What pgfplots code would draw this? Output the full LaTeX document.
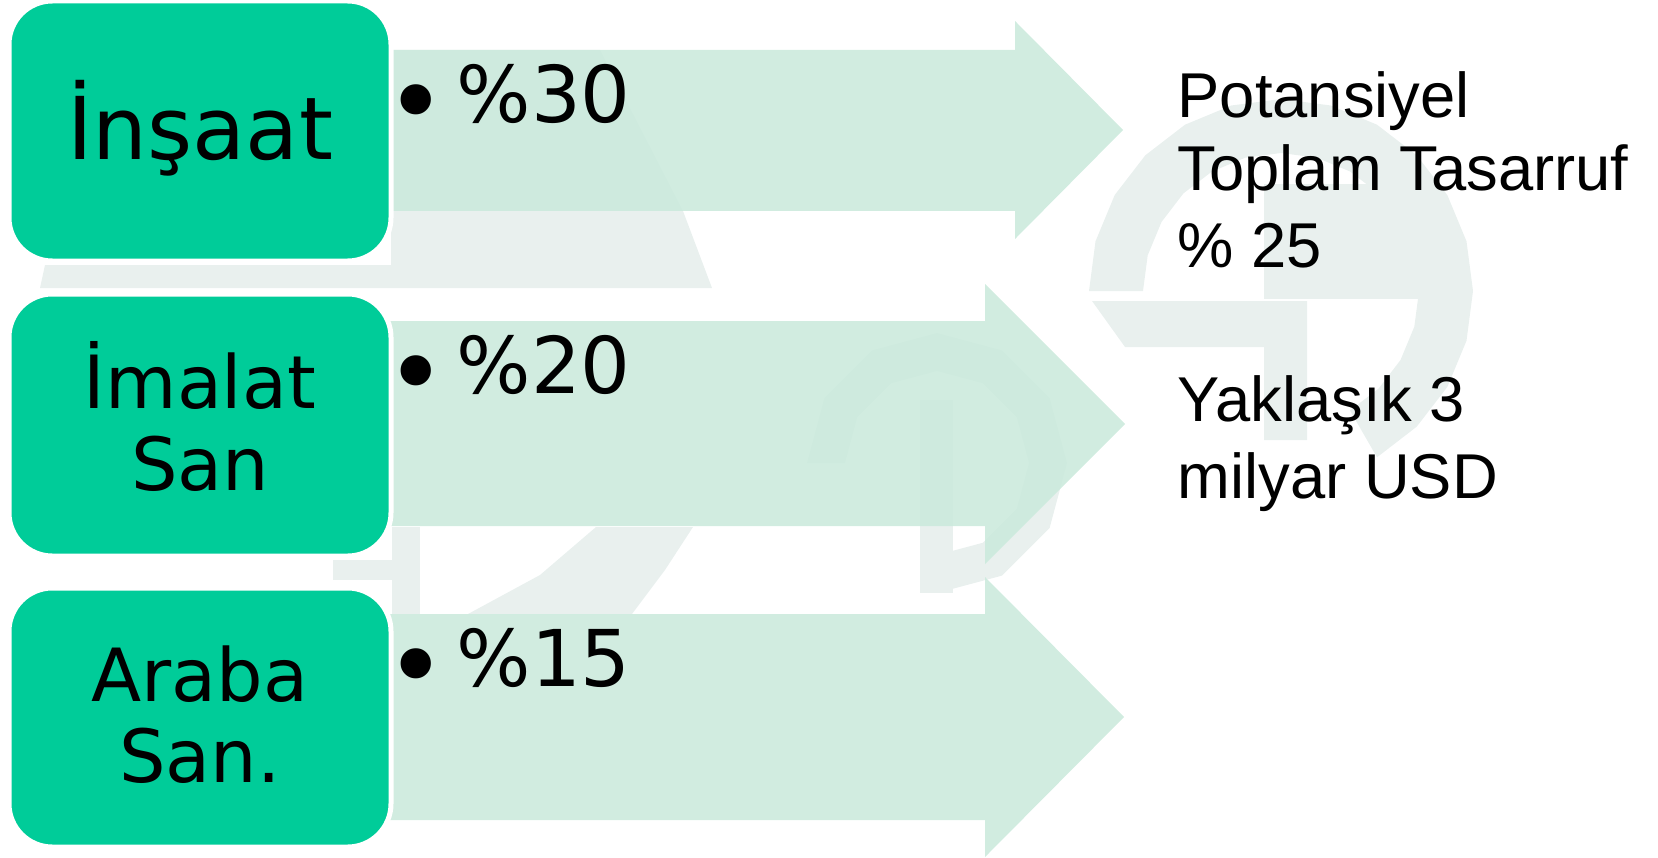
\documentclass[border=0pt]{standalone}
\usepackage{pgfplots}
\pgfplotsset{compat=1.18}
\usepackage{fontspec}
\setmainfont{DejaVu Sans}
\newfontfamily\arialf{Liberation Sans}
\definecolor{boxc}{RGB}{0,204,153}
\definecolor{arrc}{RGB}{204,234,221}
\definecolor{wm}{RGB}{233,240,238}
\begin{document}
\begin{tikzpicture}
\begin{axis}[width=497.4pt,height=257.1pt,scale only axis,
  xmin=0,xmax=1658,ymin=0,ymax=857,y dir=reverse,hide axis,clip=false]
% ---- faint watermark ----
\addplot[fill=wm,draw=none] coordinates {(391,50) (600,50) (683,211) (712,288) (40,288) (45,265) (391,265)} -- cycle;
\addplot[fill=wm,draw=none] coordinates {(333,560) (420,560) (420,580) (333,580)} -- cycle;
\addplot[fill=wm,draw=none] coordinates {(392,527) (420,527) (420,614) (392,614)} -- cycle;
\addplot[fill=wm,draw=none] coordinates {(596,527) (693,527) (665,570) (632,614) (468,614) (540,575)} -- cycle;
\addplot[fill=wm,draw=none] coordinates {(937,593) (1002,575.6) (1049.6,528) (1067,463) (1049.6,398) (1002,350.4) (937,333) (872,350.4) (824.4,398) (807,463)
 (845,463) (857.3,417) (891,383.3) (937,371) (983,383.3) (1016.7,417) (1029,463) (1016.7,509) (983,542.7) (937,555)} -- cycle;
\addplot[fill=wm,draw=none] coordinates {(920,400) (953,400) (953,593) (920,593)} -- cycle;
\addplot[fill=wm,draw=none] coordinates {(1089,291) (1095.5,241.3) (1114.7,195) (1145.3,155.3) (1185,124.7) (1231.3,105.5) (1281,99) (1330.7,105.5) (1377,124.7) (1416.7,155.3) (1447.3,195) (1466.5,241.3) (1473,291) (1466.5,340.7) (1447.3,387) (1416.7,426.7) (1377,457.3)
 (1350,410.5) (1378.6,388.6) (1400.5,360) (1414.3,326.7) (1419,291) (1414.3,255.3) (1400.5,222) (1378.6,193.4) (1350,171.5) (1316.7,157.7) (1281,153) (1245.3,157.7) (1212,171.5) (1183.4,193.4) (1161.5,222) (1147.7,255.3) (1143,291)} -- cycle;
\addplot[fill=wm,draw=none] coordinates {(1264,184) (1420,184) (1420,299) (1264,299)} -- cycle;
\addplot[fill=wm,draw=none] coordinates {(1092,301) (1307,301) (1307,440) (1264,440) (1264,347) (1125,347)} -- cycle;
% ---- arrows ----
\addplot[fill=arrc,fill opacity=0.9,draw=none] coordinates {(370,50) (1015,50) (1015,21) (1123,130) (1015,239) (1015,211) (370,211)} -- cycle;
\addplot[fill=arrc,fill opacity=0.9,draw=none] coordinates {(370,321) (985,321) (985,284) (1125,424) (985,564) (985,526) (370,526)} -- cycle;
\addplot[fill=arrc,fill opacity=0.9,draw=none] coordinates {(370,614) (985,614) (985,577) (1124,717) (985,857) (985,820) (370,820)} -- cycle;
% ---- boxes ----
\addplot[fill=boxc,draw=white,line width=1.5pt,rounded corners=13pt] coordinates {(200,1) (391,1) (391,261) (9,261) (9,1)} -- cycle;
\addplot[fill=boxc,draw=white,line width=1.5pt,rounded corners=13pt] coordinates {(200,294) (391,294) (391,556) (9,556) (9,294)} -- cycle;
\addplot[fill=boxc,draw=white,line width=1.5pt,rounded corners=13pt] coordinates {(200,588) (391,588) (391,847) (9,847) (9,588)} -- cycle;
% ---- box labels ----
\begin{scope}[every node/.style={inner sep=0pt,anchor=base}]
\node[font=\fontsize{26}{30}\selectfont] at (axis cs:200,160) {İnşaat};
\node[font=\fontsize{22}{26}\selectfont] at (axis cs:200,408) {İmalat};
\node[font=\fontsize{22}{26}\selectfont] at (axis cs:200,490) {San};
\node[font=\fontsize{22}{26}\selectfont] at (axis cs:200,701) {Araba};
\node[font=\fontsize{22}{26}\selectfont] at (axis cs:200,782) {San.};
\end{scope}
% ---- bullets ----
\begin{scope}[every node/.style={inner sep=0pt,font=\fontsize{23.5}{28}\selectfont}]
\node[anchor=base] at (axis cs:416,139) {\scalebox{1.33}{•}};
\node[anchor=base west] at (axis cs:456,123) {\%30};
\node[anchor=base] at (axis cs:416,409) {\scalebox{1.33}{•}};
\node[anchor=base west] at (axis cs:456,393) {\%20};
\node[anchor=base] at (axis cs:416,702) {\scalebox{1.33}{•}};
\node[anchor=base west] at (axis cs:456,686) {\%15};
\end{scope}
% ---- right text ----
\begin{scope}[every node/.style={inner sep=0pt,anchor=base west,font=\arialf\fontsize{19}{23}\selectfont}]
\node at (axis cs:1177,118) {Potansiyel};
\node at (axis cs:1177,191) {Toplam Tasarruf};
\node at (axis cs:1177,267) {\% 25};
\node at (axis cs:1177,421) {Yaklaşık 3};
\node at (axis cs:1177,498) {milyar USD};
\end{scope}
\end{axis}
\pgfresetboundingbox
\useasboundingbox (current axis.south west) rectangle (current axis.north east);
\end{tikzpicture}
\end{document}
